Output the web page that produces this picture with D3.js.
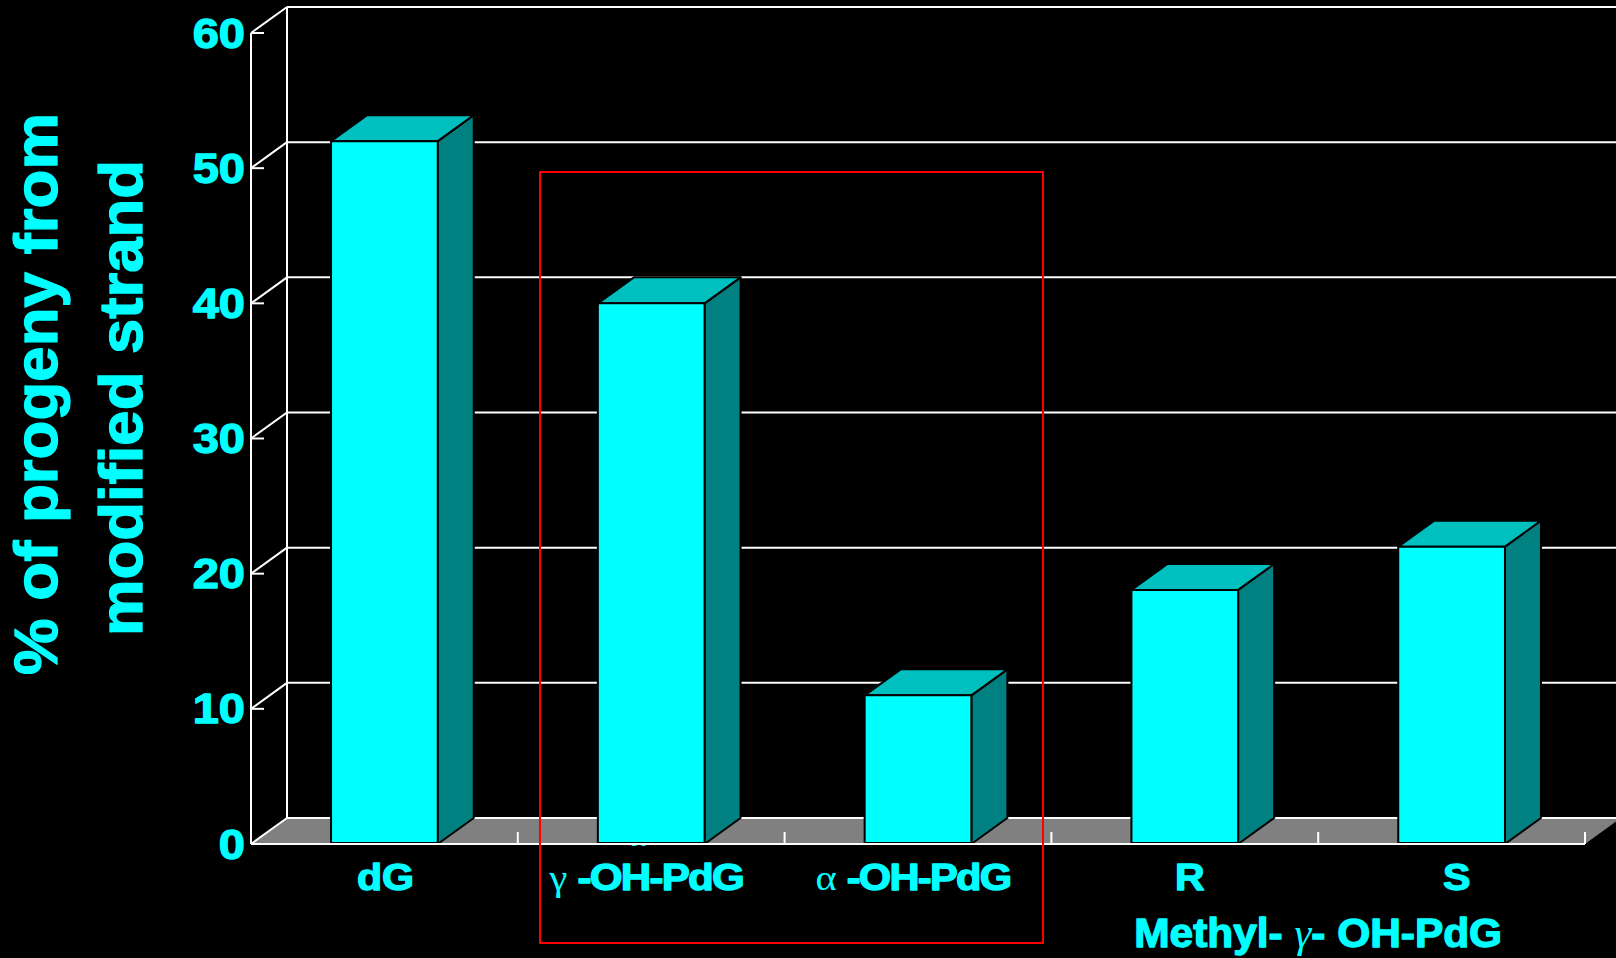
<!DOCTYPE html>
<html>
<head>
<meta charset="utf-8">
<script src="https://cdn.jsdelivr.net/npm/d3@7"></script>
<style>
  html, body { margin: 0; padding: 0; background: #000; }
  svg { display: block; }
</style>
</head>
<body>
<svg id="chart" width="1616" height="958"></svg>
<script>
// ---- data ----
const categories = ["dG", "γ-OH-PdG", "α-OH-PdG", "R", "S"];
const greekPrefix = ["", "γ", "α", "", ""];
const labelMain = ["dG", " -OH-PdG", " -OH-PdG", "R", "S"];
const values = [52, 40, 11, 18.8, 22];
const yTicks = [0, 10, 20, 30, 40, 50, 60];
const yTitleLines = ["% of progeny from", "modified strand"];
const groupLabel = ["Methyl- ", "γ", "- OH-PdG"];

// ---- layout ----
const W = 1616, H = 958;
const plotLeft = 251, plotRight = 1585, plotBottom = 844, plotTop = 33;
const DX = 36, DY = -26;
const CYAN = "#00FFFF", TOPC = "#00BFBF", SIDEC = "#008080", FLOOR = "#808080";
const SANS = "'Liberation Sans', Arial, sans-serif";
const SERIF = "'Liberation Serif', 'Times New Roman', serif";

const svg = d3.select("#chart");
svg.append("rect").attr("width", W).attr("height", H).attr("fill", "#000");

const x = d3.scaleBand().domain(categories).range([plotLeft, plotRight]).paddingInner(0.6).paddingOuter(0.3);
const xSlots = d3.scaleBand().domain(categories).range([plotLeft, plotRight]).padding(0);
const y = d3.scaleLinear().domain([0, 60]).range([plotBottom, plotTop]);

const pts = arr => arr.map(p => p.join(",")).join(" ");

// floor
svg.append("polygon")
  .attr("points", pts([[plotLeft, y(0)], [plotRight, y(0)], [plotRight + DX, y(0) + DY], [plotLeft + DX, y(0) + DY]]))
  .attr("fill", FLOOR);

// back wall gridlines & left wall
const grid = svg.append("g").attr("stroke", "#fff").attr("stroke-width", 2).attr("fill", "none");
yTicks.forEach(t => {
  grid.append("line").attr("x1", plotLeft + DX).attr("x2", plotRight + DX + 10)
    .attr("y1", y(t) + DY).attr("y2", y(t) + DY);
  grid.append("line").attr("x1", plotLeft).attr("y1", y(t)).attr("x2", plotLeft + DX).attr("y2", y(t) + DY);
  grid.append("line").attr("x1", plotLeft).attr("y1", y(t)).attr("x2", plotLeft + 13).attr("y2", y(t));
});
grid.append("line").attr("x1", plotLeft + DX).attr("x2", plotLeft + DX).attr("y1", y(60) + DY).attr("y2", y(0) + DY);
grid.append("line").attr("x1", plotLeft).attr("x2", plotLeft).attr("y1", y(60)).attr("y2", y(0));

// stray alpha glyph peeking beneath the second bar
svg.append("text").attr("x", 637).attr("y", 846).attr("text-anchor", "middle")
  .attr("font-family", SERIF).attr("font-size", 36).attr("fill", CYAN).text("α");

// bars
const bw = x.bandwidth();
const bars = svg.append("g");
categories.forEach((c, i) => {
  const x0 = x(c), x1 = x0 + bw, yt = y(values[i]), yb = y(0);
  const g = bars.append("g").attr("stroke", "#000").attr("stroke-width", 2).attr("stroke-linejoin", "round");
  g.append("polygon").attr("fill", SIDEC)
    .attr("points", pts([[x1, yt], [x1 + DX, yt + DY], [x1 + DX, yb + DY], [x1, yb]]));
  g.append("polygon").attr("fill", TOPC)
    .attr("points", pts([[x0, yt], [x1, yt], [x1 + DX, yt + DY], [x0 + DX, yt + DY]]));
  g.append("rect").attr("x", x0).attr("y", yt).attr("width", bw).attr("height", yb - yt - 1).attr("fill", CYAN);
});

// front axis line and ticks
const fr = svg.append("g").attr("stroke", "#fff").attr("stroke-width", 2);
fr.append("line").attr("x1", plotLeft).attr("x2", plotRight).attr("y1", y(0)).attr("y2", y(0));
categories.forEach(c => {
  const xe = xSlots(c) + xSlots.step();
  fr.append("line").attr("x1", xe).attr("x2", xe).attr("y1", y(0)).attr("y2", y(0) - 12);
});

// heavy-text helper (thickens bold glyphs a little like the slide rendering)
const heavy = sel => sel.attr("stroke", CYAN).attr("stroke-width", 1.3).attr("stroke-linejoin", "round");

// y tick labels
yTicks.forEach(t => {
  svg.append("text")
    .attr("transform", `translate(245,${y(t)}) scale(1.12,1)`)
    .attr("text-anchor", "end").attr("dominant-baseline", "central")
    .attr("font-family", SANS).attr("font-weight", "bold").attr("font-size", 42)
    .attr("fill", CYAN).call(heavy).text(t);
});

// helper: scale factor that fits a text to a target width
function fit(textSel, targetW) {
  const w = textSel.node().getBBox().width;
  return w > 0 ? targetW / w : 1;
}

// category labels
categories.forEach((c, i) => {
  const cx = xSlots(c) + xSlots.step() / 2;
  const g = svg.append("g");
  const t = g.append("text").attr("text-anchor", "middle")
    .attr("font-family", SANS).attr("font-weight", "bold").attr("font-size", 37).attr("fill", CYAN);
  if (greekPrefix[i]) {
    t.append("tspan").attr("font-family", SERIF).attr("font-weight", "normal").attr("font-size", 36).text(greekPrefix[i]);
    t.append("tspan").attr("letter-spacing", -1.5).call(heavy).text(labelMain[i]);
    const k = fit(t, 195);
    g.attr("transform", `translate(${cx - 5},890) scale(${k},1)`);
  } else {
    t.call(heavy).text(labelMain[i]);
    g.attr("transform", `translate(${cx + (i > 2 ? 5 : 1)},890) scale(1.11,1)`);
  }
});

// group label
{
  const g = svg.append("g");
  const t = g.append("text").attr("text-anchor", "middle")
    .attr("font-family", SANS).attr("font-weight", "bold").attr("font-size", 40).attr("fill", CYAN);
  t.append("tspan").call(heavy).text(groupLabel[0]);
  t.append("tspan").attr("font-family", SERIF).attr("font-style", "italic").attr("font-weight", "normal").text(groupLabel[1]);
  t.append("tspan").call(heavy).text(groupLabel[2]);
  const k = fit(t, 368);
  g.attr("transform", `translate(${xSlots(categories[4])},947) scale(${k},1)`);
}

// y-axis title
[[yTitleLines[0], 57, 394, 562], [yTitleLines[1], 142, 398, 476]].forEach(([txt, bx, cy, len]) => {
  const g = svg.append("g");
  const t = g.append("text").attr("text-anchor", "middle")
    .attr("font-family", SANS).attr("font-weight", "bold").attr("font-size", 61).attr("fill", CYAN)
    .call(heavy).text(txt);
  const k = fit(t, len);
  g.attr("transform", `translate(${bx},${cy}) rotate(-90) scale(${k},1)`);
});

// red highlight box
svg.append("rect").attr("x", 540).attr("y", 172).attr("width", 503).attr("height", 771)
  .attr("fill", "none").attr("stroke", "#FF0000").attr("stroke-width", 2);
</script>
</body>
</html>
